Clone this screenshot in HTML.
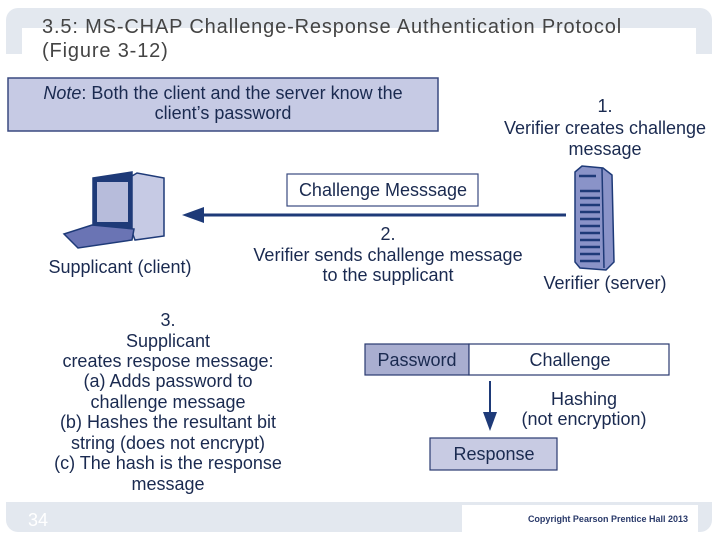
<!DOCTYPE html>
<html><head><meta charset="utf-8"><style>
body{margin:0;width:720px;height:540px;background:#fff;overflow:hidden;font-family:"Liberation Sans",sans-serif}
</style></head><body>
<svg width="720" height="540" xmlns="http://www.w3.org/2000/svg" font-family="Liberation Sans, sans-serif">
<rect x="6" y="8" width="706" height="524" rx="12" fill="#e3e8ef"/>
<rect x="22" y="28" width="674" height="26" fill="#fff"/>
<rect x="6" y="54" width="706" height="448" fill="#fff"/>
<rect x="462" y="505" width="236" height="27" fill="#fff"/>
<text x="42" y="33" font-size="20" fill="#444" letter-spacing="0.85">3.5: MS-CHAP Challenge-Response Authentication Protocol</text>
<text x="42" y="57" font-size="20" fill="#444" letter-spacing="0.85">(Figure 3-12)</text>
<text x="28" y="526" font-size="18" fill="#fff">34</text>
<text x="688" y="522" font-size="9" font-weight="bold" fill="#2a3a6a" text-anchor="end">Copyright Pearson Prentice Hall 2013</text>

<rect x="8" y="78" width="430" height="53" fill="#c6cae4" stroke="#3a4a80" stroke-width="1.5"/>
<text x="223" y="99" font-size="18" fill="#1a2a50" text-anchor="middle"><tspan font-style="italic">Note</tspan>: Both the client and the server know the</text>
<text x="223" y="119" font-size="18" fill="#1a2a50" text-anchor="middle">client’s password</text>

<g font-size="18" fill="#1a2a50" text-anchor="middle">
<text x="605" y="112">1.</text>
<text x="605" y="134">Verifier creates challenge</text>
<text x="605" y="155">message</text>
<text x="388" y="240">2.</text>
<text x="388" y="261">Verifier sends challenge message</text>
<text x="388" y="281">to the supplicant</text>
<text x="120" y="273">Supplicant (client)</text>
<text x="605" y="289">Verifier (server)</text>
<text x="168" y="326">3.</text>
<text x="168" y="347">Supplicant</text>
<text x="168" y="367">creates respose message:</text>
<text x="168" y="387">(a) Adds password to</text>
<text x="168" y="408">challenge message</text>
<text x="168" y="428">(b) Hashes the resultant bit</text>
<text x="168" y="449">string (does not encrypt)</text>
<text x="168" y="469">(c) The hash is the response</text>
<text x="168" y="490">message</text>
<text x="584" y="405">Hashing</text>
<text x="584" y="425">(not encryption)</text>
</g>

<rect x="287" y="174" width="191" height="32" fill="#fff" stroke="#3a4a80" stroke-width="1.2"/>
<text x="383" y="196" font-size="18" fill="#1a2a50" text-anchor="middle">Challenge Messsage</text>
<line x1="200" y1="215" x2="566" y2="215" stroke="#1e3a78" stroke-width="3"/>
<polygon points="182,215 204,207 204,223" fill="#1e3a78"/>

<!-- computer -->
<g stroke="#1e3a78" stroke-width="1.5">
<polygon points="93,178 132,172 132,228 93,230" fill="#1e3a78"/>
<rect x="97" y="182" width="31" height="40" fill="#b7bcdb" stroke="none"/>
<polygon points="132,176 137,173 164,178 164,236 135,240 132,232" fill="#c6cae4"/>
<polygon points="64,234 92,225 134,229 132,240 78,248" fill="#6a74b4"/>
</g>

<!-- server -->
<g stroke="#1e3a78" stroke-width="1.5">
<polygon points="575,172 582,166 603,168 612,175 614,262 606,270 580,268 575,262" fill="#8a93c8"/>
<line x1="602" y1="168" x2="604" y2="268"/>
<g stroke="#1e3a78" stroke-width="2.5">
<line x1="579" y1="176" x2="596" y2="176"/>
<line x1="580" y1="191" x2="600" y2="191"/><line x1="580" y1="198" x2="600" y2="198"/>
<line x1="580" y1="205" x2="600" y2="205"/><line x1="580" y1="212" x2="600" y2="212"/>
<line x1="580" y1="219" x2="600" y2="219"/><line x1="580" y1="226" x2="600" y2="226"/>
<line x1="580" y1="233" x2="600" y2="233"/><line x1="580" y1="240" x2="600" y2="240"/>
<line x1="580" y1="247" x2="600" y2="247"/><line x1="580" y1="254" x2="600" y2="254"/>
<line x1="580" y1="261" x2="600" y2="261"/>
</g></g>

<rect x="365" y="344" width="104" height="31" fill="#a9aed0" stroke="#2a3a70" stroke-width="1.2"/>
<rect x="469" y="344" width="200" height="31" fill="#fff" stroke="#2a3a70" stroke-width="1.2"/>
<text x="417" y="366" font-size="18" fill="#1a2a50" text-anchor="middle">Password</text>
<text x="570" y="366" font-size="18" fill="#1a2a50" text-anchor="middle">Challenge</text>
<line x1="490" y1="381" x2="490" y2="415" stroke="#1e3a78" stroke-width="2"/>
<polygon points="483,412 497,412 490,431" fill="#1e3a78"/>
<rect x="430" y="438" width="127" height="32" fill="#c8cbe3" stroke="#2a3a70" stroke-width="1.2"/>
<text x="494" y="460" font-size="18" fill="#1a2a50" text-anchor="middle">Response</text>
</svg>
</body></html>
